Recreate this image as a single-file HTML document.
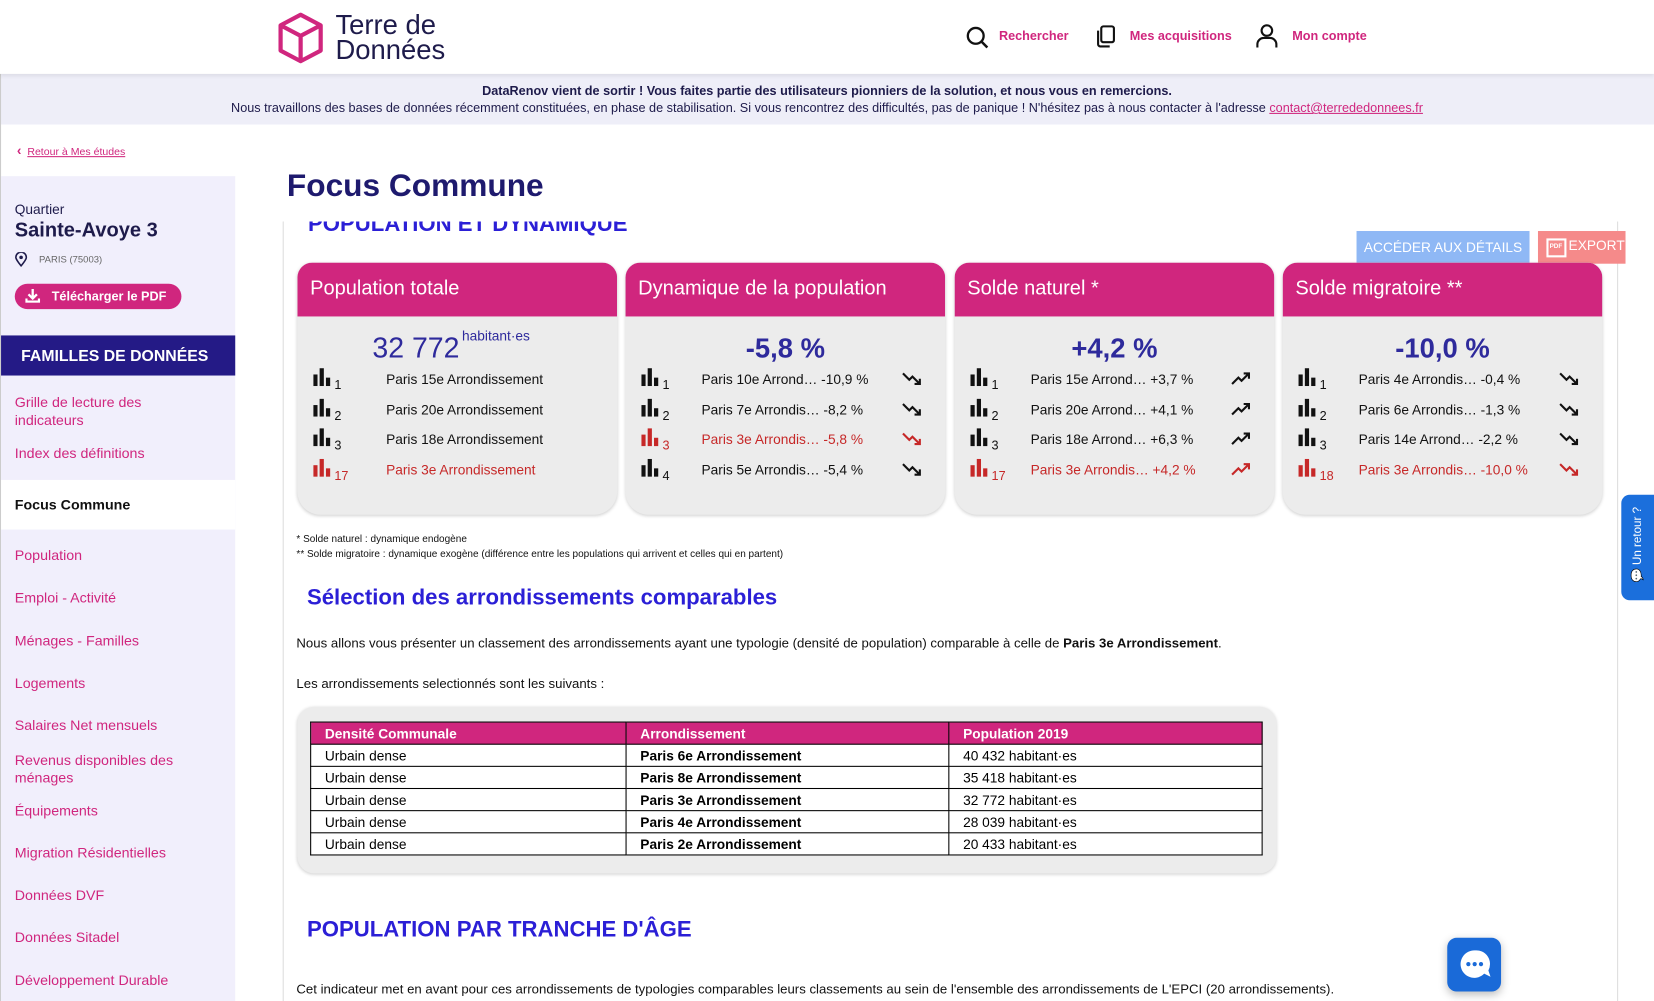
<!DOCTYPE html>
<html><head><meta charset="utf-8"><style>
*{box-sizing:border-box;margin:0;padding:0}
body{width:1654px;height:1001px;overflow:hidden;background:#fff;font-family:"Liberation Sans",sans-serif}
#w{position:absolute;left:0;top:0;width:1568px;height:949px;transform:scale(1.05485);transform-origin:0 0;overflow:hidden}
.a{position:absolute;white-space:nowrap}
.pk{color:#d0267e}
.card{position:absolute;top:249px;width:303px;height:239px;background:#ececec;border-radius:14px 14px 22px 22px;box-shadow:0 1px 3px rgba(0,0,0,.18);overflow:hidden}
.card .h{height:51px;background:#d0267e;color:#fff;font-size:19px;padding:14px 0 0 12px}
.big{position:absolute;top:66px;width:100%;text-align:center;font-size:26px;font-weight:bold;color:#2e2a9c}
.r{position:absolute;left:0;width:100%;font-size:13px;color:#111}
.r.red{color:#c62828}
.ic{position:absolute;left:15px;top:-3px}
.rk{position:absolute;left:35px;top:6px;font-size:12px}
.nm{position:absolute;left:72px}
.tr{position:absolute;left:262px;top:-1px}
table{border-collapse:collapse;font-size:13px}
td,th{border:1px solid #000;height:21px;padding:0 0 0 13px;text-align:left}
th{background:#d0267e;color:#fff}
td{background:#fff}
.nav{font-size:12px;font-weight:bold;color:#d0267e}
.sb{position:absolute;left:14px;font-size:13.5px;color:#d0267e}
</style></head><body><div id="w">
<div class="a" style="left:0;top:0;width:1568px;height:70px;background:#fff;box-shadow:0 2px 4px rgba(0,0,0,.08);z-index:2"></div>
<svg class="a" style="left:262px;top:11px;z-index:3" width="46" height="50" viewBox="0 0 46 50"><path d="M23 3 L42 13 L42 37 L23 47 L4 37 L4 13 Z M4 13 L23 23 L42 13 M23 23 L23 47" fill="none" stroke="#d0267e" stroke-width="4" stroke-linejoin="round"/></svg>
<div class="a" style="left:318px;top:11px;font-size:26px;line-height:24px;color:#1e1b4b;z-index:3">Terre de<br>Données</div>
<svg class="a" style="left:915px;top:24px;z-index:3" width="22" height="22"><circle cx="10" cy="10" r="7.5" fill="none" stroke="#111" stroke-width="2.2"/><line x1="15.5" y1="15.5" x2="21" y2="21" stroke="#111" stroke-width="2.4"/></svg>
<div class="a nav" style="left:947px;top:27px;z-index:3">Rechercher</div>
<svg class="a" style="left:1038px;top:23px;z-index:3" width="20" height="22"><rect x="6" y="2" width="12" height="15" rx="2" fill="none" stroke="#111" stroke-width="2"/><path d="M3 6 V19 a2 2 0 0 0 2 2 H14" fill="none" stroke="#111" stroke-width="2"/></svg>
<div class="a nav" style="left:1071px;top:27px;z-index:3">Mes acquisitions</div>
<svg class="a" style="left:1190px;top:22px;z-index:3" width="22" height="24"><circle cx="11" cy="7" r="5" fill="none" stroke="#111" stroke-width="2"/><path d="M2 23 V20 a6 6 0 0 1 6 -6 H14 a6 6 0 0 1 6 6 V23" fill="none" stroke="#111" stroke-width="2"/></svg>
<div class="a nav" style="left:1225px;top:27px;z-index:3">Mon compte</div>
<div class="a" style="left:0;top:70px;width:1568px;height:48px;background:#eeeef8;text-align:center;font-size:12px;color:#1e1b4b;line-height:16px;padding-top:8px">
<b>DataRenov vient de sortir ! Vous faites partie des utilisateurs pionniers de la solution, et nous vous en remercions.</b><br>Nous travaillons des bases de données récemment constituées, en phase de stabilisation. Si vous rencontrez des difficultés, pas de panique ! N'hésitez pas à nous contacter à l'adresse <u class="pk">contact@terrededonnees.fr</u></div>
<div class="a" style="left:0;top:70px;width:1px;height:900px;background:#ccc"></div>
<div class="a pk" style="left:16px;top:135px;font-size:10px"><b style="font-size:13px">‹</b>&nbsp;&nbsp;<u>Retour à Mes études</u></div>
<div class="a" style="left:1px;top:167px;width:222px;height:790px;background:#f1effc"></div>
<div class="a" style="left:14px;top:191px;font-size:13px;color:#1e1b4b">Quartier</div>
<div class="a" style="left:14px;top:208px;font-size:19px;font-weight:bold;color:#1e1b4b">Sainte-Avoye 3</div>
<svg class="a" style="left:14px;top:239px" width="12" height="14"><path d="M6 13 C1 7 1 5 1 5 a5 5 0 0 1 10 0 C11 7 6 13 6 13Z" fill="none" stroke="#1e1b4b" stroke-width="1.5"/><circle cx="6" cy="5" r="1.7" fill="#1e1b4b"/></svg>
<div class="a" style="left:37px;top:241px;font-size:9px;color:#666">PARIS (75003)</div>
<div class="a" style="left:14px;top:269px;width:158px;height:24px;background:#d0267e;border-radius:12px;color:#fff;font-size:12px;font-weight:bold;padding:5px 0 0 35px">Télécharger le PDF</div>
<svg class="a" style="left:24px;top:274px" width="14" height="13"><path d="M7 0 V8 M3 5 L7 9 L11 5 M1 9 V12 H13 V9" stroke="#fff" stroke-width="2.2" fill="none"/></svg>
<div class="a" style="left:1px;top:318px;width:222px;height:38px;background:#241a86;color:#fff;font-size:15px;font-weight:bold;padding:11px 0 0 19px">FAMILLES DE DONNÉES</div>
<div class="sb" style="top:373px;line-height:17px">Grille de lecture des<br>indicateurs</div>
<div class="sb" style="top:422px">Index des définitions</div>
<div class="a" style="left:1px;top:455px;width:222px;height:47px;background:#fff"></div>
<div class="sb" style="top:471px;color:#111;font-weight:bold">Focus Commune</div>
<div class="sb" style="top:519px">Population</div>
<div class="sb" style="top:559px">Emploi - Activité</div>
<div class="sb" style="top:600px">Ménages - Familles</div>
<div class="sb" style="top:640px">Logements</div>
<div class="sb" style="top:680px">Salaires Net mensuels</div>
<div class="sb" style="top:712px;line-height:17px">Revenus disponibles des<br>ménages</div>
<div class="sb" style="top:761px">Équipements</div>
<div class="sb" style="top:801px">Migration Résidentielles</div>
<div class="sb" style="top:841px">Données DVF</div>
<div class="sb" style="top:881px">Données Sitadel</div>
<div class="sb" style="top:922px">Développement Durable</div>
<div class="a" style="left:272px;top:160px;font-size:30px;font-weight:bold;color:#1e1a6e">Focus Commune</div>
<div class="a" style="left:268px;top:210px;width:1266px;height:760px;border-left:1px solid #ddd;border-right:1px solid #ddd;overflow:hidden">
<div class="a" style="left:23px;top:-9px;font-size:21px;font-weight:bold;color:#2b1fd6">POPULATION ET DYNAMIQUE</div></div>
<div class="a" style="left:1286px;top:219px;width:164px;height:31px;background:#8fb8f5;color:#fff;font-size:13px;text-align:center;padding-top:8px">ACCÉDER AUX DÉTAILS</div>
<div class="a" style="left:1458px;top:219px;width:83px;height:31px;background:#f58a8a;color:#fff;font-size:13px;padding:6px 0 0 29px">EXPORT</div>
<div class="a" style="left:1466px;top:226px;width:19px;height:18px;border:2px solid #fff;color:#fff;font-size:6px;font-weight:bold;padding:3px 0 0 1px">PDF</div>

<div class="card" style="left:282px"><div class="h">Population totale</div>
<div class="a" style="left:71px;top:66px;font-size:27px;color:#2e2a9c">32 772</div>
<div class="a" style="left:156px;top:62px;font-size:13px;color:#2e2a9c">habitant·es</div>
<div class="r" style="top:103px"><svg class="ic" width="17" height="17"><rect x="0" y="6" width="4" height="11" fill="#111"/><rect x="6" y="0" width="4" height="17" fill="#111"/><rect x="12" y="9" width="4" height="8" fill="#111"/></svg><span class="rk">1</span><span class="nm" style="left:84px">Paris 15e Arrondissement</span></div>
<div class="r" style="top:132px"><svg class="ic" width="17" height="17"><rect x="0" y="6" width="4" height="11" fill="#111"/><rect x="6" y="0" width="4" height="17" fill="#111"/><rect x="12" y="9" width="4" height="8" fill="#111"/></svg><span class="rk">2</span><span class="nm" style="left:84px">Paris 20e Arrondissement</span></div>
<div class="r" style="top:160px"><svg class="ic" width="17" height="17"><rect x="0" y="6" width="4" height="11" fill="#111"/><rect x="6" y="0" width="4" height="17" fill="#111"/><rect x="12" y="9" width="4" height="8" fill="#111"/></svg><span class="rk">3</span><span class="nm" style="left:84px">Paris 18e Arrondissement</span></div>
<div class="r red" style="top:189px"><svg class="ic" width="17" height="17"><rect x="0" y="6" width="4" height="11" fill="#c62828"/><rect x="6" y="0" width="4" height="17" fill="#c62828"/><rect x="12" y="9" width="4" height="8" fill="#c62828"/></svg><span class="rk">17</span><span class="nm" style="left:84px">Paris 3e Arrondissement</span></div>
</div>

<div class="card" style="left:593px"><div class="h">Dynamique de la population</div><div class="big">-5,8 %</div>
<div class="r" style="top:103px"><svg class="ic" width="17" height="17"><rect x="0" y="6" width="4" height="11" fill="#111"/><rect x="6" y="0" width="4" height="17" fill="#111"/><rect x="12" y="9" width="4" height="8" fill="#111"/></svg><span class="rk">1</span><span class="nm">Paris 10e Arrond… -10,9 %</span><svg class="tr" width="20" height="16"><path d="M1 3 L7 9 L10 6 L17 13 M12 13 H17 V8" fill="none" stroke="#111" stroke-width="2"/></svg></div>
<div class="r" style="top:132px"><svg class="ic" width="17" height="17"><rect x="0" y="6" width="4" height="11" fill="#111"/><rect x="6" y="0" width="4" height="17" fill="#111"/><rect x="12" y="9" width="4" height="8" fill="#111"/></svg><span class="rk">2</span><span class="nm">Paris 7e Arrondis… -8,2 %</span><svg class="tr" width="20" height="16"><path d="M1 3 L7 9 L10 6 L17 13 M12 13 H17 V8" fill="none" stroke="#111" stroke-width="2"/></svg></div>
<div class="r red" style="top:160px"><svg class="ic" width="17" height="17"><rect x="0" y="6" width="4" height="11" fill="#c62828"/><rect x="6" y="0" width="4" height="17" fill="#c62828"/><rect x="12" y="9" width="4" height="8" fill="#c62828"/></svg><span class="rk">3</span><span class="nm">Paris 3e Arrondis… -5,8 %</span><svg class="tr" width="20" height="16"><path d="M1 3 L7 9 L10 6 L17 13 M12 13 H17 V8" fill="none" stroke="#c62828" stroke-width="2"/></svg></div>
<div class="r" style="top:189px"><svg class="ic" width="17" height="17"><rect x="0" y="6" width="4" height="11" fill="#111"/><rect x="6" y="0" width="4" height="17" fill="#111"/><rect x="12" y="9" width="4" height="8" fill="#111"/></svg><span class="rk">4</span><span class="nm">Paris 5e Arrondis… -5,4 %</span><svg class="tr" width="20" height="16"><path d="M1 3 L7 9 L10 6 L17 13 M12 13 H17 V8" fill="none" stroke="#111" stroke-width="2"/></svg></div>
</div>

<div class="card" style="left:905px"><div class="h">Solde naturel *</div><div class="big">+4,2 %</div>
<div class="r" style="top:103px"><svg class="ic" width="17" height="17"><rect x="0" y="6" width="4" height="11" fill="#111"/><rect x="6" y="0" width="4" height="17" fill="#111"/><rect x="12" y="9" width="4" height="8" fill="#111"/></svg><span class="rk">1</span><span class="nm">Paris 15e Arrond… +3,7 %</span><svg class="tr" width="20" height="16"><path d="M1 13 L7 7 L10 10 L17 3 M12 3 H17 V8" fill="none" stroke="#111" stroke-width="2"/></svg></div>
<div class="r" style="top:132px"><svg class="ic" width="17" height="17"><rect x="0" y="6" width="4" height="11" fill="#111"/><rect x="6" y="0" width="4" height="17" fill="#111"/><rect x="12" y="9" width="4" height="8" fill="#111"/></svg><span class="rk">2</span><span class="nm">Paris 20e Arrond… +4,1 %</span><svg class="tr" width="20" height="16"><path d="M1 13 L7 7 L10 10 L17 3 M12 3 H17 V8" fill="none" stroke="#111" stroke-width="2"/></svg></div>
<div class="r" style="top:160px"><svg class="ic" width="17" height="17"><rect x="0" y="6" width="4" height="11" fill="#111"/><rect x="6" y="0" width="4" height="17" fill="#111"/><rect x="12" y="9" width="4" height="8" fill="#111"/></svg><span class="rk">3</span><span class="nm">Paris 18e Arrond… +6,3 %</span><svg class="tr" width="20" height="16"><path d="M1 13 L7 7 L10 10 L17 3 M12 3 H17 V8" fill="none" stroke="#111" stroke-width="2"/></svg></div>
<div class="r red" style="top:189px"><svg class="ic" width="17" height="17"><rect x="0" y="6" width="4" height="11" fill="#c62828"/><rect x="6" y="0" width="4" height="17" fill="#c62828"/><rect x="12" y="9" width="4" height="8" fill="#c62828"/></svg><span class="rk">17</span><span class="nm">Paris 3e Arrondis… +4,2 %</span><svg class="tr" width="20" height="16"><path d="M1 13 L7 7 L10 10 L17 3 M12 3 H17 V8" fill="none" stroke="#c62828" stroke-width="2"/></svg></div>
</div>

<div class="card" style="left:1216px"><div class="h">Solde migratoire **</div><div class="big">-10,0 %</div>
<div class="r" style="top:103px"><svg class="ic" width="17" height="17"><rect x="0" y="6" width="4" height="11" fill="#111"/><rect x="6" y="0" width="4" height="17" fill="#111"/><rect x="12" y="9" width="4" height="8" fill="#111"/></svg><span class="rk">1</span><span class="nm">Paris 4e Arrondis… -0,4 %</span><svg class="tr" width="20" height="16"><path d="M1 3 L7 9 L10 6 L17 13 M12 13 H17 V8" fill="none" stroke="#111" stroke-width="2"/></svg></div>
<div class="r" style="top:132px"><svg class="ic" width="17" height="17"><rect x="0" y="6" width="4" height="11" fill="#111"/><rect x="6" y="0" width="4" height="17" fill="#111"/><rect x="12" y="9" width="4" height="8" fill="#111"/></svg><span class="rk">2</span><span class="nm">Paris 6e Arrondis… -1,3 %</span><svg class="tr" width="20" height="16"><path d="M1 3 L7 9 L10 6 L17 13 M12 13 H17 V8" fill="none" stroke="#111" stroke-width="2"/></svg></div>
<div class="r" style="top:160px"><svg class="ic" width="17" height="17"><rect x="0" y="6" width="4" height="11" fill="#111"/><rect x="6" y="0" width="4" height="17" fill="#111"/><rect x="12" y="9" width="4" height="8" fill="#111"/></svg><span class="rk">3</span><span class="nm">Paris 14e Arrond… -2,2 %</span><svg class="tr" width="20" height="16"><path d="M1 3 L7 9 L10 6 L17 13 M12 13 H17 V8" fill="none" stroke="#111" stroke-width="2"/></svg></div>
<div class="r red" style="top:189px"><svg class="ic" width="17" height="17"><rect x="0" y="6" width="4" height="11" fill="#c62828"/><rect x="6" y="0" width="4" height="17" fill="#c62828"/><rect x="12" y="9" width="4" height="8" fill="#c62828"/></svg><span class="rk">18</span><span class="nm">Paris 3e Arrondis… -10,0 %</span><svg class="tr" width="20" height="16"><path d="M1 3 L7 9 L10 6 L17 13 M12 13 H17 V8" fill="none" stroke="#c62828" stroke-width="2"/></svg></div>
</div>

<div class="a" style="left:281px;top:505px;font-size:9.5px;line-height:14px;color:#111">* Solde naturel : dynamique endogène<br>** Solde migratoire : dynamique exogène (différence entre les populations qui arrivent et celles qui en partent)</div>
<div class="a" style="left:291px;top:555px;font-size:21px;font-weight:bold;color:#2b1fd6">Sélection des arrondissements comparables</div>
<div class="a" style="left:281px;top:603px;font-size:12.5px;color:#111">Nous allons vous présenter un classement des arrondissements ayant une typologie (densité de population) comparable à celle de <b>Paris 3e Arrondissement</b>.</div>
<div class="a" style="left:281px;top:641px;font-size:12.5px;color:#111">Les arrondissements selectionnés sont les suivants :</div>
<div class="a" style="left:282px;top:670px;width:928px;height:158px;background:#ececec;border-radius:16px;box-shadow:0 1px 3px rgba(0,0,0,.18)"></div>
<table class="a" style="left:294px;top:684px;width:903px">
<tr><th style="width:299px">Densité Communale</th><th style="width:306px">Arrondissement</th><th>Population 2019</th></tr>
<tr><td>Urbain dense</td><td><b>Paris 6e Arrondissement</b></td><td>40 432 habitant·es</td></tr>
<tr><td>Urbain dense</td><td><b>Paris 8e Arrondissement</b></td><td>35 418 habitant·es</td></tr>
<tr><td>Urbain dense</td><td><b>Paris 3e Arrondissement</b></td><td>32 772 habitant·es</td></tr>
<tr><td>Urbain dense</td><td><b>Paris 4e Arrondissement</b></td><td>28 039 habitant·es</td></tr>
<tr><td>Urbain dense</td><td><b>Paris 2e Arrondissement</b></td><td>20 433 habitant·es</td></tr>
</table>
<div class="a" style="left:291px;top:870px;font-size:21px;font-weight:bold;color:#2b1fd6">POPULATION PAR TRANCHE D'ÂGE</div>
<div class="a" style="left:281px;top:931px;font-size:12.5px;color:#111">Cet indicateur met en avant pour ces arrondissements de typologies comparables leurs classements au sein de l'ensemble des arrondissements de L'EPCI (20 arrondissements).</div>
<div class="a" style="left:1537px;top:469px;width:31px;height:100px;background:#1b6fdc;border-radius:8px 0 0 8px"></div>
<div class="a" style="top:510px;color:#fff;font-size:11px;transform:rotate(-90deg);transform-origin:center;width:80px;left:1512px;text-align:center">💬 Un retour ?</div>
<div class="a" style="left:1372px;top:889px;width:51px;height:51px;background:#1a6ad8;border-radius:9px;box-shadow:0 3px 8px rgba(0,0,0,.25)"></div>
<svg class="a" style="left:1380px;top:897px" width="36" height="36"><path d="M18 4 a13 13 0 1 0 9 22 l6 3 l-2 -6 a13 13 0 0 0 -13 -19Z" fill="#fff"/><circle cx="12" cy="17" r="2" fill="#1a6ad8"/><circle cx="18" cy="17" r="2" fill="#1a6ad8"/><circle cx="24" cy="17" r="2" fill="#1a6ad8"/></svg>
</div></body></html>
